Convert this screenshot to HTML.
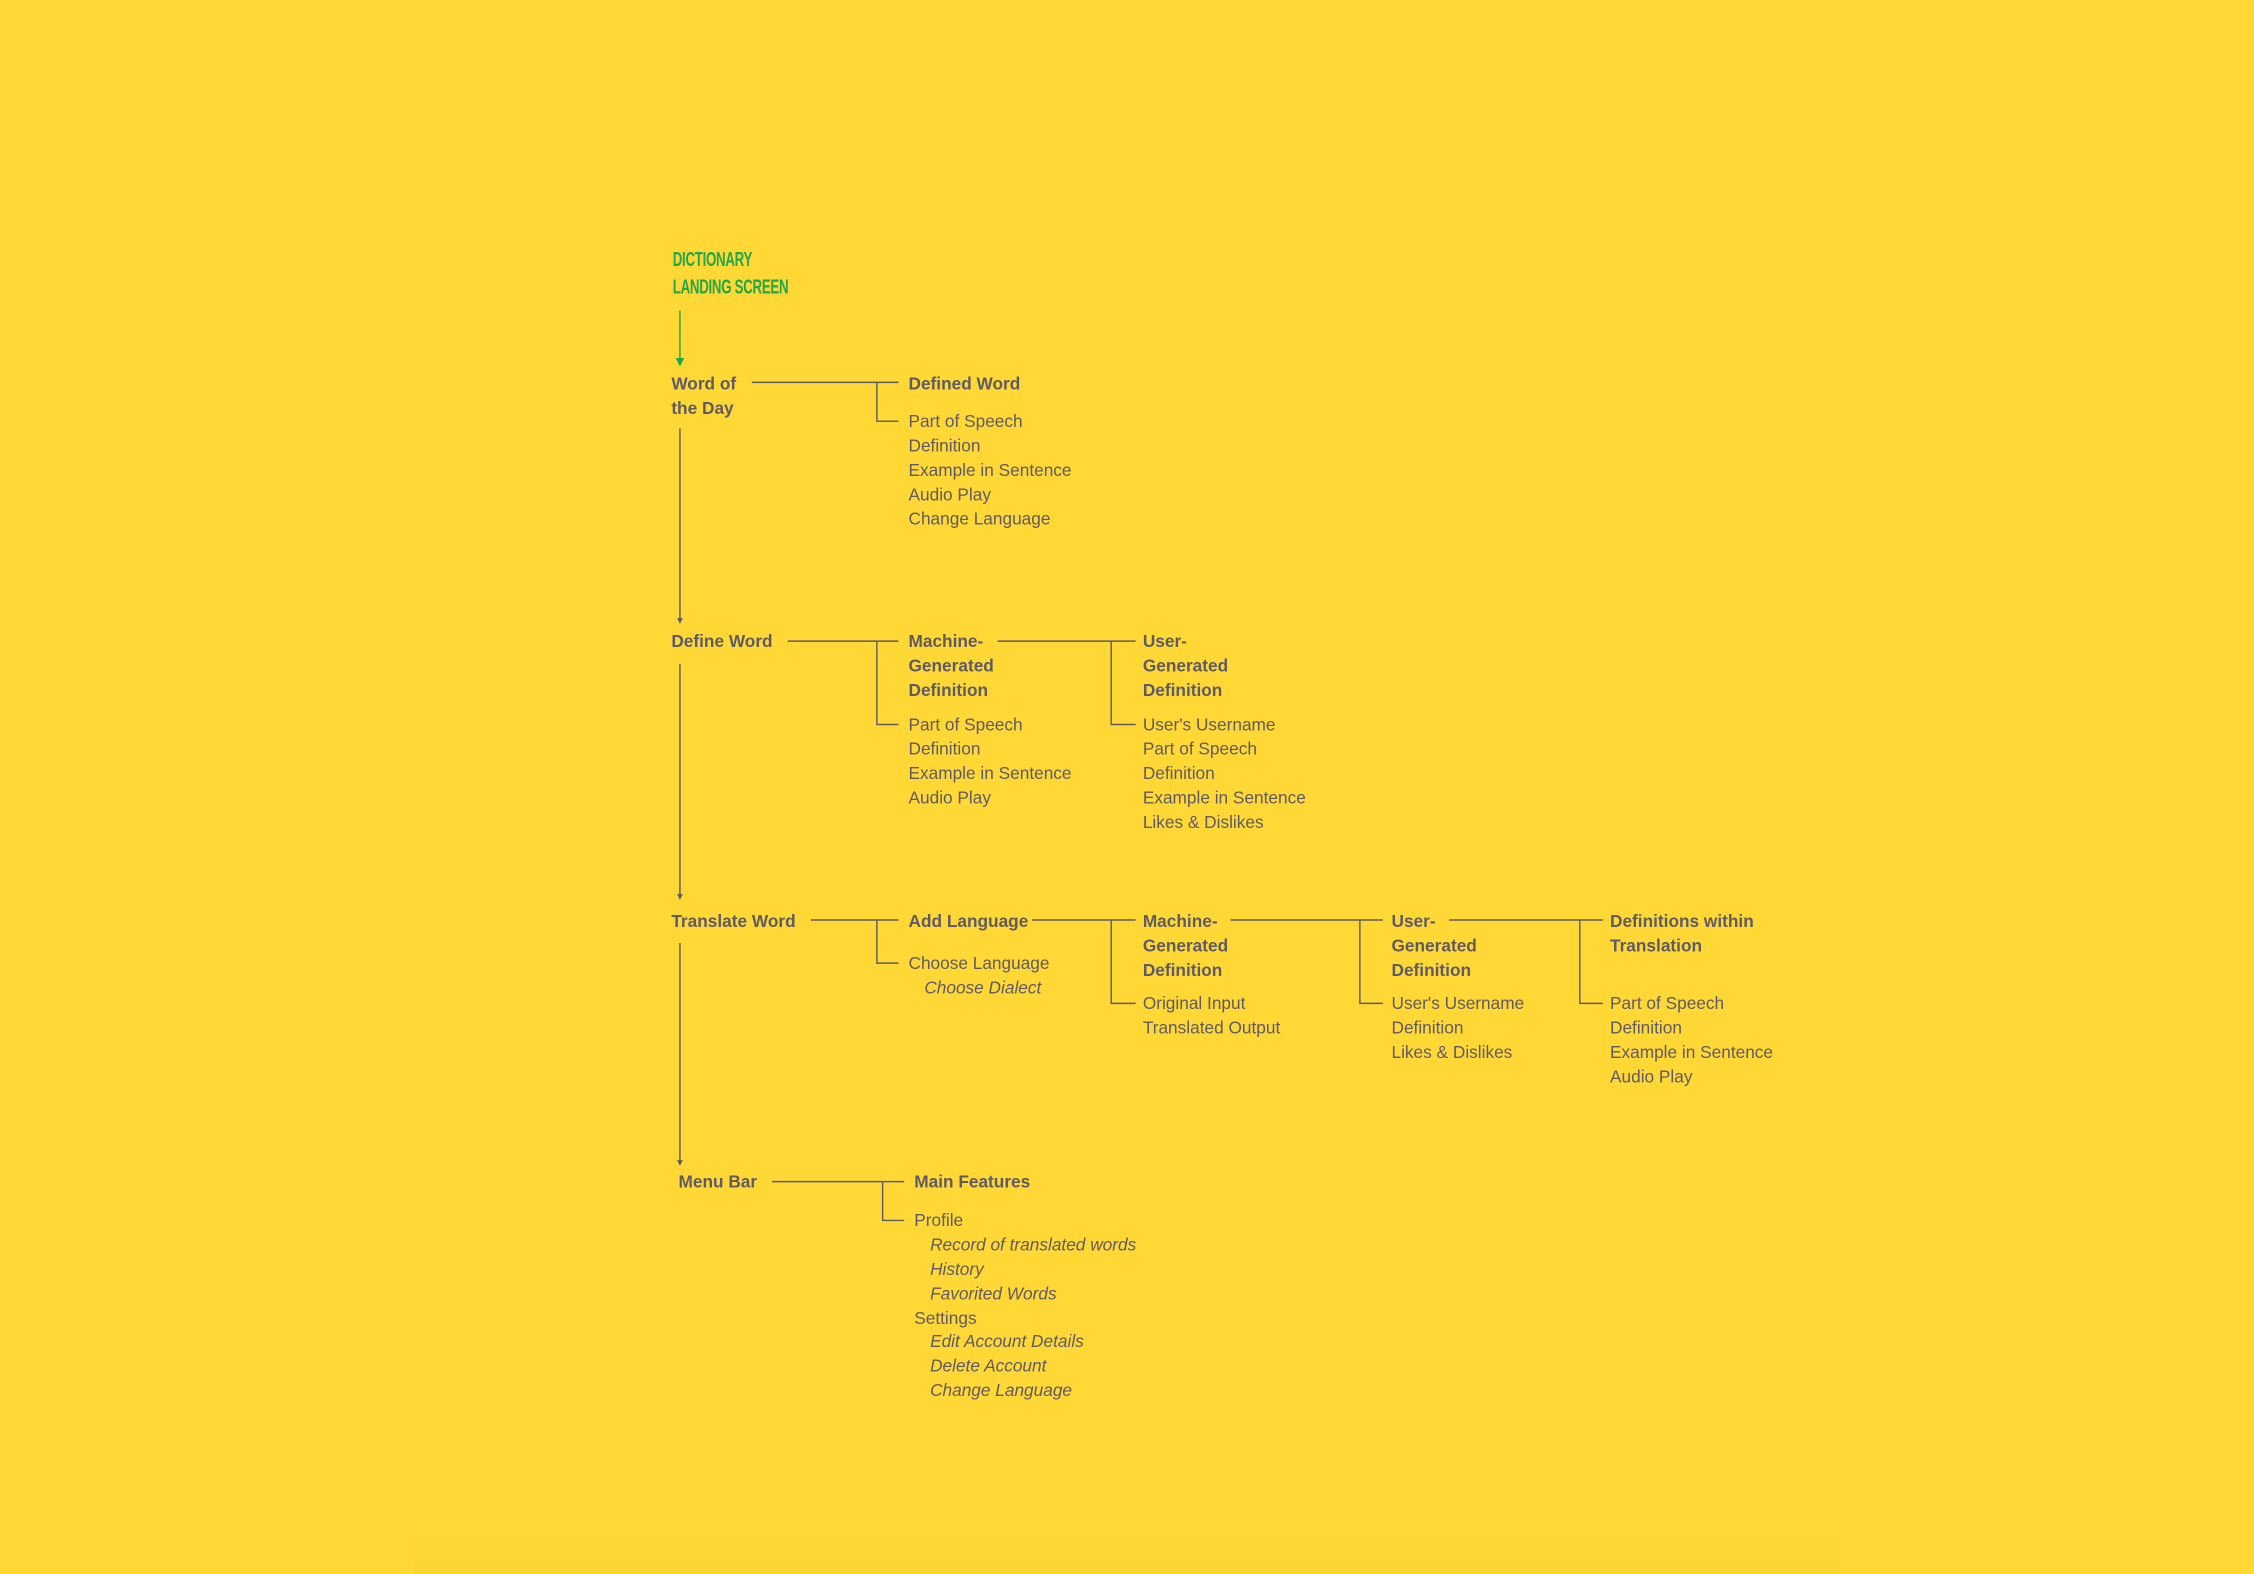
<!DOCTYPE html>
<html><head><meta charset="utf-8"><style>
html,body{margin:0;padding:0;width:2254px;height:1574px;overflow:hidden;background:#ffd836;}
#wrap{position:absolute;left:0;top:0;width:1568px;height:1095px;transform:scale(1.4375);transform-origin:0 0;}
.t{position:absolute;font-family:"Liberation Sans",sans-serif;font-size:12px;line-height:17px;color:#5f5b66;white-space:nowrap;margin-top:1px;}
.b{font-weight:bold;}
.i{font-style:italic;}
.title{position:absolute;font-family:"Liberation Sans Narrow","Liberation Sans",sans-serif;font-weight:bold;font-size:14px;line-height:19px;color:#21a84a;transform:scaleX(0.66);transform-origin:0 0;letter-spacing:-0.3px;}
svg{position:absolute;left:0;top:0;}
#shade{position:absolute;left:288px;top:1060px;width:992px;height:35px;background:linear-gradient(#ffd836,#f9d533);}
</style></head><body>
<div id="wrap">
<div id="shade"></div>
<svg width="1568" height="1095" fill="none" stroke="#5f5b66" stroke-width="1">
<line x1="473" y1="216" x2="473" y2="250" stroke="#21a84a"/>
<polygon points="470,249 476,249 473,255" fill="#21a84a" stroke="none"/>
<line x1="473" y1="298" x2="473" y2="432"/><polygon points="471,430 475,430 473,434" fill="#5f5b66" stroke="none"/>
<line x1="473" y1="462" x2="473" y2="624"/><polygon points="471,622 475,622 473,626" fill="#5f5b66" stroke="none"/>
<line x1="473" y1="656" x2="473" y2="809"/><polygon points="471,807 475,807 473,811" fill="#5f5b66" stroke="none"/>
<polyline points="523,266 625,266"/><polyline points="610,266 610,293 625,293"/>
<polyline points="548,446 625,446"/><polyline points="610,446 610,504 625,504"/>
<polyline points="694,446 790,446"/><polyline points="773,446 773,504 790,504"/>
<polyline points="564,640 625,640"/><polyline points="610,640 610,670 625,670"/>
<polyline points="718,640 790,640"/><polyline points="773,640 773,698 790,698"/>
<polyline points="856,640 962,640"/><polyline points="946,640 946,698 962,698"/>
<polyline points="1008,640 1115,640"/><polyline points="1099,640 1099,698 1115,698"/>
<polyline points="537,822 629,822"/><polyline points="614,822 614,849 629,849"/>
</svg>
<div class="title" style="left:468px;top:171px">DICTIONARY<br>LANDING SCREEN</div>

<div class="t b" style="left:467px;top:258px">Word of<br>the Day</div>
<div class="t b" style="left:632px;top:258px">Defined Word</div>
<div class="t" style="left:632px;top:284px">Part of Speech<br>Definition<br>Example in Sentence<br>Audio Play<br>Change Language</div>

<div class="t b" style="left:467px;top:437px">Define Word</div>
<div class="t b" style="left:632px;top:437px">Machine-<br>Generated<br>Definition</div>
<div class="t" style="left:632px;top:495px">Part of Speech<br>Definition<br>Example in Sentence<br>Audio Play</div>
<div class="t b" style="left:795px;top:437px">User-<br>Generated<br>Definition</div>
<div class="t" style="left:795px;top:495px">User's Username<br>Part of Speech<br>Definition<br>Example in Sentence<br>Likes &amp; Dislikes</div>

<div class="t b" style="left:467px;top:632px">Translate Word</div>
<div class="t b" style="left:632px;top:632px">Add Language</div>
<div class="t" style="left:632px;top:661px">Choose Language</div>
<div class="t i" style="left:643px;top:678px">Choose Dialect</div>
<div class="t b" style="left:795px;top:632px">Machine-<br>Generated<br>Definition</div>
<div class="t" style="left:795px;top:689px">Original Input<br>Translated Output</div>
<div class="t b" style="left:968px;top:632px">User-<br>Generated<br>Definition</div>
<div class="t" style="left:968px;top:689px">User's Username<br>Definition<br>Likes &amp; Dislikes</div>
<div class="t b" style="left:1120px;top:632px">Definitions within<br>Translation</div>
<div class="t" style="left:1120px;top:689px">Part of Speech<br>Definition<br>Example in Sentence<br>Audio Play</div>

<div class="t b" style="left:472px;top:813px">Menu Bar</div>
<div class="t b" style="left:636px;top:813px">Main Features</div>
<div class="t" style="left:636px;top:840px">Profile</div>
<div class="t i" style="left:647px;top:857px">Record of translated words<br>History<br>Favorited Words</div>
<div class="t" style="left:636px;top:908px">Settings</div>
<div class="t i" style="left:647px;top:924px">Edit Account Details<br>Delete Account<br>Change Language</div>
</div>
</body></html>
